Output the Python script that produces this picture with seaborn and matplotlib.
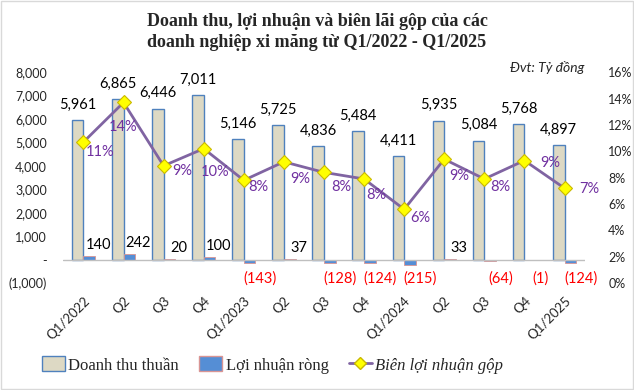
# Doanh thu, lợi nhuận và biên lãi gộp - xi măng Q1/2022 - Q1/2025

import pandas as pd
import numpy as np
import matplotlib.pyplot as plt
import seaborn as sns
from matplotlib.patches import Patch, Rectangle
from matplotlib.lines import Line2D

# Data
quarters = ["Q1/2022", "Q2", "Q3", "Q4", "Q1/2023", "Q2", "Q3", "Q4",
            "Q1/2024", "Q2", "Q3", "Q4", "Q1/2025"]
revenue = [5961, 6865, 6446, 7011, 5146, 5725, 4836, 5484, 4411, 5935, 5084, 5768, 4897]
profit = [140, 242, 20, 100, -143, 37, -128, -124, -215, 33, -64, -1, -124]
margin = [10.7, 13.7, 8.9, 10.2, 7.8, 9.2, 8.4, 7.9, 5.6, 9.4, 7.9, 9.3, 7.2]
margin_labels = ["11%", "14%", "9%", "10%", "8%", "9%", "8%", "8%", "6%", "9%", "8%", "9%", "7%"]

# label offsets for the margin labels (pixels, right / down)
margin_offsets = [(17, 10), (0, 25), (19, 5), (11, 23), (15, 7), (16, 17), (17, 15),
                  (12, 16), (16, 9), (15, 17), (16, 8), (26, 2), (25, 1)]

sns.set_style("white")
plt.rcParams['font.family'] = ['Lato', 'DejaVu Sans']

# unique keys so seaborn keeps all 13 categories
keys = [f"{i}" for i in range(len(quarters))]
df = pd.DataFrame({
    "key": keys * 2,
    "value": revenue + profit,
    "series": ["Doanh thu thuần"] * len(keys) + ["Lợi nhuận ròng"] * len(keys),
})

fig = plt.figure(figsize=(6.34, 3.9), dpi=100)
ax = fig.add_axes([0.100, 0.274, 0.822, 0.541])

sns.barplot(data=df, x="key", y="value", hue="series", order=keys,
            palette={"Doanh thu thuần": "#DDD9C4", "Lợi nhuận ròng": "#558ED5"},
            width=0.58, gap=0, legend=False, ax=ax, saturation=1)

for bar in ax.containers[0]:
    bar.set_edgecolor("#4F81BD")
    bar.set_linewidth(1)
for bar in ax.containers[1]:
    bar.set_edgecolor("#D99594")
    bar.set_linewidth(0.6)

ax.set_ylim(-1000, 8000)
ax.set_xlim(-0.5, len(keys) - 0.5)
ax.set_yticks(np.arange(-1000, 8001, 1000))
ax.set_yticklabels(["-" if v == 0 else (f"({abs(v):,})" if v < 0 else f"{v:,}")
                    for v in np.arange(-1000, 8001, 1000)], fontsize=9)
ax.tick_params(axis='y', length=0, pad=12)
ax.set_xticks(range(len(keys)))
ax.set_xticklabels(quarters, rotation=45, ha='right', rotation_mode='anchor', fontsize=9.5)
ax.tick_params(axis='x', length=0, pad=8)
ax.set_xlabel("")
ax.set_ylabel("")
for s in ax.spines.values():
    s.set_visible(False)
ax.axhline(0, color="#BFBFBF", lw=1, zorder=1)

# data labels
for i, v in enumerate(revenue):
    ax.annotate(f"{v:,}", (i - 0.145, v), xytext=(0, 6), textcoords="offset points",
                ha='center', va='bottom', fontsize=10.5, color="black")
for i, v in enumerate(profit):
    if v >= 0:
        ax.annotate(f"{v:,}", (i + 0.37, v), xytext=(0, 3), textcoords="offset points",
                    ha='center', va='bottom', fontsize=10.5, color="black")
    else:
        ax.annotate(f"({abs(v):,})", (i + 0.4, -820), ha='center', va='center',
                    fontsize=10.5, color="#FF0000")

# margin line on the right axis
ax2 = ax.twinx()
mdf = pd.DataFrame({"x": np.arange(len(keys)), "margin": margin})
sns.lineplot(data=mdf, x="x", y="margin", ax=ax2, color="#8064A2", lw=2,
             marker="D", markersize=7.5, markerfacecolor="#FFFF00",
             markeredgecolor="#C9B800", markeredgewidth=0.8)
ax2.set_ylim(0, 16)
ax2.set_yticks(np.arange(0, 17, 2))
ax2.set_yticklabels([f"{v}%" for v in range(0, 17, 2)], fontsize=9)
ax2.tick_params(axis='y', length=0, pad=17)
ax2.set_ylabel("")
ax2.set_xlabel("")
for s in ax2.spines.values():
    s.set_visible(False)

for i, (m, lab) in enumerate(zip(margin, margin_labels)):
    dx, dy = margin_offsets[i]
    ax2.annotate(lab, (i, m), xytext=(dx * 0.72, -dy * 0.72), textcoords="offset points",
                 ha='center', va='center', fontsize=10.5, color="#7030A0")

# title and unit
fig.text(0.5, 0.917, "Doanh thu, lợi nhuận và biên lãi gộp của các\ndoanh nghiệp xi măng từ Q1/2022 - Q1/2025",
         ha='center', va='center', fontsize=13, fontweight='bold',
         family=['Liberation Serif', 'DejaVu Serif'], linespacing=1.3)
fig.text(0.922, 0.826, "Đvt: Tỷ đồng", ha='right', va='center', fontsize=10, style='italic')

# legend
handles = [Patch(facecolor="#DDD9C4", edgecolor="#4F81BD", label="Doanh thu thuần"),
           Patch(facecolor="#558ED5", edgecolor="#D99594", label="Lợi nhuận ròng"),
           Line2D([0], [0], color="#8064A2", lw=2, marker="D", markersize=6,
                  markerfacecolor="#FFFF00", markeredgecolor="#C9B800", label="Biên lợi nhuận gộp")]
leg = fig.legend(handles=handles, loc='center', bbox_to_anchor=(0.43, 0.064), ncol=3,
                 frameon=False, prop={'family': ['Liberation Serif', 'DejaVu Serif'], 'size': 12},
                 handlelength=1.4, handleheight=1.0, columnspacing=1.2, handletextpad=0.2)
leg.get_texts()[2].set_fontstyle('italic')

# light border around the figure
fig.patches.append(Rectangle((0.002, 0.003), 0.996, 0.994, transform=fig.transFigure,
                             fill=False, edgecolor="#D9D9D9", lw=1))

plt.savefig("out.png", dpi=100)
